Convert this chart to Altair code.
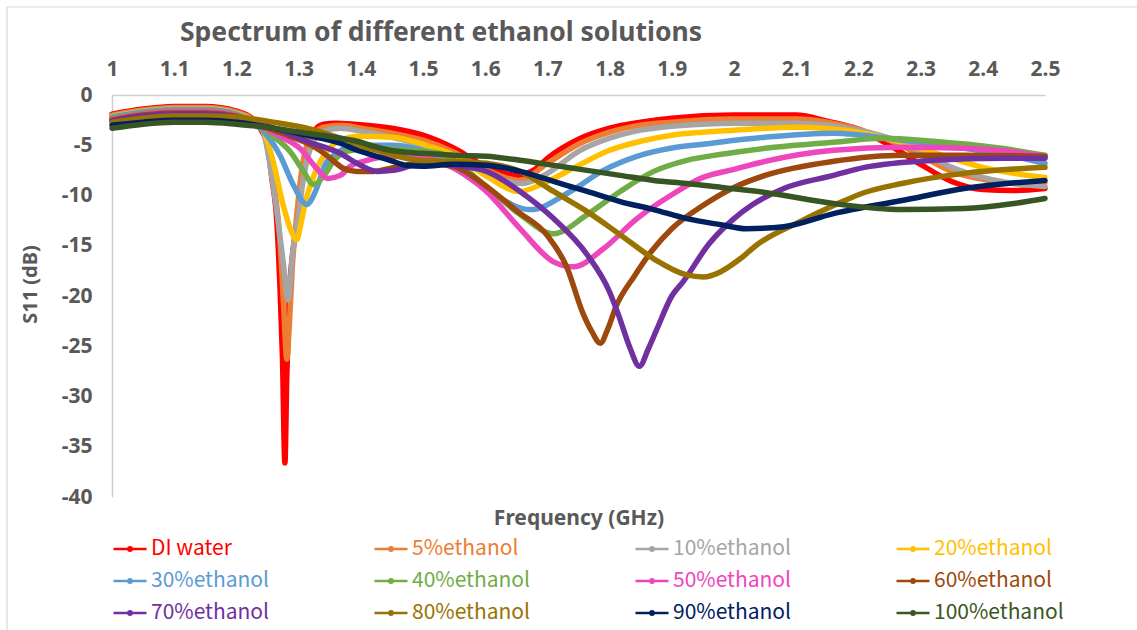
import altair as alt
import pandas as pd

chart_title = "Spectrum of different ethanol solutions"
x_title = "Frequency (GHz)"
y_title = "S11 (dB)"

series_names = ["DI water", "5%ethanol", "10%ethanol", "20%ethanol",
                "30%ethanol", "40%ethanol", "50%ethanol", "60%ethanol",
                "70%ethanol", "80%ethanol", "90%ethanol", "100%ethanol"]
series_colors = ["#FF0000", "#ED7D31", "#A5A5A5", "#FFC000",
                 "#5B9BD5", "#70AD47", "#EE46BC", "#9E480E",
                 "#7030A0", "#997300", "#002060", "#375623"]

x_ticks = [1.0, 1.1, 1.2, 1.3, 1.4, 1.5, 1.6, 1.7, 1.8, 1.9, 2.0, 2.1, 2.2, 2.3, 2.4, 2.5]
y_ticks = [0, -5, -10, -15, -20, -25, -30, -35, -40]

freq_di = [1.00, 1.05, 1.10, 1.15, 1.20, 1.23, 1.24, 1.25, 1.257, 1.265, 1.27, 1.274, 1.278, 1.281,
           1.285, 1.29, 1.297, 1.305, 1.313, 1.325, 1.34, 1.36, 1.39, 1.45, 1.50, 1.55, 1.60, 1.65,
           1.68, 1.70, 1.75, 1.80, 1.85, 1.90, 2.00, 2.10, 2.15, 2.20, 2.25, 2.30, 2.35, 2.40, 2.45, 2.50]
s11_di = [-1.9, -1.4, -1.15, -1.15, -1.6, -2.6, -3.5, -5.0, -8.3, -12.6, -19, -26, -36.6, -28,
          -20, -16, -12.9, -8.5, -5.6, -3.6, -2.9, -2.8, -2.9, -3.3, -4.0, -5.3, -7.1, -8.0,
          -7.4, -6.3, -4.4, -3.3, -2.7, -2.3, -2.0, -2.0, -2.6, -3.4, -5.0, -6.9, -8.6, -9.4, -9.5, -9.3]

freq_5 = [1.00, 1.05, 1.10, 1.15, 1.20, 1.23, 1.243, 1.252, 1.262, 1.27, 1.276, 1.281, 1.285, 1.29,
          1.297, 1.305, 1.313, 1.325, 1.34, 1.37, 1.40, 1.45, 1.50, 1.55, 1.60, 1.655, 1.70, 1.75,
          1.80, 1.85, 1.90, 2.00, 2.10, 2.15, 2.20, 2.25, 2.30, 2.35, 2.40, 2.45, 2.50]
s11_5 = [-2.0, -1.5, -1.25, -1.25, -1.7, -2.6, -3.6, -5.5, -9.5, -14.5, -21, -26.3, -23, -17,
         -12, -7.5, -5.0, -3.8, -3.2, -3.0, -3.3, -3.8, -4.5, -5.7, -7.4, -8.5, -6.8, -4.9,
         -3.7, -3.0, -2.7, -2.4, -2.4, -2.7, -3.4, -4.5, -6.0, -7.6, -8.4, -8.8, -8.7]

freq_10 = [1.00, 1.05, 1.10, 1.15, 1.20, 1.23, 1.243, 1.25, 1.259, 1.267, 1.275, 1.283, 1.29, 1.295,
           1.30, 1.305, 1.313, 1.324, 1.34, 1.367, 1.40, 1.45, 1.50, 1.55, 1.60, 1.66, 1.70, 1.75,
           1.80, 1.85, 1.90, 1.95, 2.00, 2.10, 2.20, 2.25, 2.30, 2.35, 2.40, 2.45, 2.50]
s11_10 = [-2.1, -1.6, -1.35, -1.35, -1.8, -2.7, -3.6, -5.5, -9.0, -12.5, -16.5, -20.4, -16, -13.5,
          -12.0, -9.5, -6.6, -4.6, -3.6, -3.3, -3.6, -4.2, -5.0, -6.2, -7.8, -8.8, -7.8, -5.6,
          -4.3, -3.5, -3.1, -2.9, -2.8, -2.8, -3.5, -4.3, -5.6, -7.2, -8.2, -8.8, -9.1]

freq_20 = [1.00, 1.05, 1.10, 1.15, 1.20, 1.23, 1.245, 1.259, 1.275, 1.286, 1.297, 1.303, 1.31,
           1.321, 1.335, 1.35, 1.367, 1.40, 1.45, 1.50, 1.55, 1.60, 1.655, 1.70, 1.75, 1.80, 1.85,
           1.90, 1.95, 2.00, 2.10, 2.20, 2.25, 2.30, 2.35, 2.40, 2.45, 2.50]
s11_20 = [-2.15, -1.65, -1.4, -1.4, -1.85, -2.8, -3.8, -6.6, -10.9, -13.2, -14.4, -13.0, -10.9,
          -8.6, -6.6, -5.3, -4.5, -4.1, -4.2, -4.9, -6.0, -8.0, -9.6, -8.6, -7.0, -5.5, -4.6,
          -4.0, -3.7, -3.5, -3.2, -3.7, -4.4, -5.3, -6.3, -7.2, -7.8, -8.2]

freq_30 = [1.00, 1.05, 1.10, 1.15, 1.20, 1.23, 1.249, 1.27, 1.292, 1.313, 1.329, 1.342, 1.361,
           1.394, 1.447, 1.50, 1.55, 1.60, 1.672, 1.737, 1.79, 1.844, 1.898, 1.95, 2.05, 2.16,
           2.27, 2.37, 2.44, 2.50]
s11_30 = [-2.2, -1.7, -1.45, -1.45, -1.9, -2.9, -4.0, -6.0, -9.0, -10.9, -9.3, -7.0, -5.8,
          -5.0, -5.0, -5.5, -7.2, -9.3, -11.4, -9.6, -7.5, -6.1, -5.3, -4.9, -4.2, -3.8,
          -4.5, -5.3, -6.0, -6.8]

freq_40 = [1.00, 1.05, 1.10, 1.15, 1.20, 1.23, 1.259, 1.286, 1.308, 1.324, 1.34, 1.356, 1.377,
           1.42, 1.474, 1.527, 1.56, 1.60, 1.656, 1.71, 1.764, 1.817, 1.871, 1.924, 1.98, 2.05,
           2.16, 2.24, 2.32, 2.43, 2.50]
s11_40 = [-2.3, -1.8, -1.55, -1.55, -2.0, -2.9, -4.1, -5.6, -7.6, -8.9, -8.1, -6.6, -5.6,
          -5.3, -5.5, -5.8, -7.0, -9.0, -11.9, -13.8, -11.9, -9.6, -7.6, -6.5, -5.9, -5.3,
          -4.7, -4.3, -4.6, -5.3, -6.0]

freq_50 = [1.00, 1.05, 1.10, 1.15, 1.20, 1.23, 1.27, 1.302, 1.329, 1.347, 1.367, 1.383, 1.41,
           1.447, 1.50, 1.55, 1.602, 1.656, 1.71, 1.742, 1.79, 1.844, 1.898, 1.95, 2.00, 2.05,
           2.16, 2.27, 2.37, 2.44, 2.50]
s11_50 = [-2.4, -1.9, -1.65, -1.65, -2.05, -2.9, -4.1, -5.3, -7.3, -8.3, -8.0, -7.1, -6.5,
          -6.1, -6.2, -7.3, -9.6, -13.3, -16.6, -17.1, -15.3, -12.3, -10.0, -8.2, -7.4, -6.6,
          -5.5, -5.2, -5.3, -5.6, -6.1]

freq_60 = [1.00, 1.05, 1.10, 1.15, 1.20, 1.23, 1.26, 1.286, 1.329, 1.351, 1.372, 1.394, 1.42,
           1.447, 1.50, 1.549, 1.60, 1.65, 1.70, 1.731, 1.757, 1.772, 1.785, 1.797, 1.81, 1.84,
           1.868, 1.90, 1.95, 2.00, 2.05, 2.16, 2.27, 2.37, 2.50]
s11_60 = [-2.5, -2.0, -1.8, -1.8, -2.1, -2.8, -3.5, -4.1, -5.3, -6.3, -7.3, -7.6, -7.6,
          -7.3, -6.8, -7.1, -9.0, -11.5, -14.0, -17.1, -21.7, -23.6, -24.7, -23.3, -21.1, -18.0,
          -15.5, -13.3, -11.0, -9.2, -8.0, -6.6, -6.0, -6.0, -6.1]

freq_70 = [1.00, 1.05, 1.10, 1.15, 1.20, 1.23, 1.27, 1.313, 1.367, 1.394, 1.426, 1.452, 1.485,
           1.527, 1.549, 1.602, 1.656, 1.71, 1.764, 1.80, 1.815, 1.833, 1.848, 1.862, 1.876,
           1.90, 1.918, 1.96, 2.00, 2.03, 2.08, 2.16, 2.21, 2.32, 2.43, 2.50]
s11_70 = [-2.6, -2.1, -1.9, -1.9, -2.2, -2.7, -3.5, -4.6, -5.8, -6.8, -7.6, -7.5, -7.0,
          -6.8, -7.0, -7.6, -9.6, -12.3, -15.9, -19.6, -22.0, -25.2, -27.0, -25.3, -23.3,
          -20.0, -18.6, -14.8, -12.3, -10.9, -9.3, -8.0, -7.2, -6.5, -6.3, -6.3]

freq_80 = [1.00, 1.05, 1.10, 1.15, 1.20, 1.259, 1.313, 1.367, 1.42, 1.495, 1.55, 1.602, 1.656,
           1.71, 1.764, 1.817, 1.871, 1.924, 1.951, 1.978, 2.01, 2.037, 2.106, 2.16, 2.21, 2.27,
           2.37, 2.50]
s11_80 = [-2.7, -2.3, -2.1, -2.1, -2.2, -2.7, -3.3, -4.3, -5.4, -6.5, -6.6, -6.8, -7.6,
          -9.6, -11.6, -13.9, -16.3, -17.9, -18.1, -17.6, -16.3, -14.9, -12.6, -11.0, -9.7, -8.8,
          -7.8, -7.2]

freq_90 = [1.00, 1.05, 1.10, 1.15, 1.20, 1.259, 1.313, 1.367, 1.394, 1.42, 1.447, 1.474, 1.50,
           1.549, 1.602, 1.656, 1.71, 1.764, 1.817, 1.871, 1.924, 1.978, 2.02, 2.08, 2.16, 2.27,
           2.37, 2.50]
s11_90 = [-3.0, -2.7, -2.5, -2.5, -2.7, -3.3, -4.0, -4.8, -5.5, -6.0, -6.5, -7.0, -7.1,
          -6.9, -7.0, -7.6, -8.6, -9.6, -10.6, -11.4, -12.3, -12.9, -13.3, -13.1, -11.8, -10.5,
          -9.3, -8.5]

freq_100 = [1.00, 1.05, 1.10, 1.15, 1.20, 1.259, 1.313, 1.367, 1.394, 1.42, 1.447, 1.474, 1.527,
            1.549, 1.602, 1.656, 1.71, 1.764, 1.817, 1.871, 1.924, 1.98, 2.05, 2.16, 2.27, 2.37,
            2.45, 2.50]
s11_100 = [-3.3, -2.9, -2.7, -2.7, -2.9, -3.3, -3.8, -4.3, -4.6, -5.1, -5.5, -5.7, -5.9,
           -6.0, -6.1, -6.5, -7.0, -7.5, -8.0, -8.5, -8.8, -9.2, -9.7, -10.8, -11.4, -11.3,
           -10.8, -10.3]

all_freqs = [freq_di, freq_5, freq_10, freq_20, freq_30, freq_40,
             freq_50, freq_60, freq_70, freq_80, freq_90, freq_100]
all_s11 = [s11_di, s11_5, s11_10, s11_20, s11_30, s11_40,
           s11_50, s11_60, s11_70, s11_80, s11_90, s11_100]

FONT = "Noto Sans"
LEGEND_FONT = "Noto Sans CJK SC"
GREY = "#595959"

x_axis = alt.Axis(orient="top", values=x_ticks, format="~g", labelFont=FONT, labelFontSize=21,
                  labelFontWeight="bold", labelColor=GREY, labelPadding=16, ticks=False, tickSize=0,
                  domainColor="#CFCFCF", domainWidth=1.5, grid=False, labelFlush=False,
                  labelOverlap=False, title=x_title, titleFont=FONT, titleFontSize=21,
                  titleFontWeight="bold", titleColor=GREY, titleX=466.5, titleY=423,
                  titleAlign="center", titleBaseline="middle", titleAngle=0)
y_axis = alt.Axis(values=y_ticks, labelExpr="datum.value == 0 ? '0' : '-' + abs(datum.value)",
                  labelFont=FONT, labelFontSize=21, labelFontWeight="bold", labelColor=GREY,
                  labelPadding=20, ticks=False, tickSize=0, domainColor="#CFCFCF", domainWidth=1.5,
                  grid=False, labelFlush=False, title=y_title, titleFont=FONT, titleFontSize=20,
                  titleFontWeight="bold", titleColor=GREY, titleX=-82, titleY=189,
                  titleAngle=270, titleAlign="center", titleBaseline="middle")

sym_path = "M-1,0L1,0M-0.1,0A0.1,0.1,0,1,0,0.1,0A0.1,0.1,0,1,0,-0.1,0"
legend = alt.Legend(orient="none", legendX=0, legendY=436, direction="horizontal", columns=4,
                    title=None, symbolType=sym_path, symbolSize=1089, symbolStrokeWidth=2.5,
                    labelFont=LEGEND_FONT, labelFontSize=21,
                    labelColor=alt.ExprRef(expr="scale('color', datum.value)"),
                    labelOffset=3, columnPadding=88, rowPadding=4, gridAlign="all", padding=0,
                    labelLimit=300)

color_scale = alt.Scale(domain=series_names, range=series_colors)
x_scale = alt.Scale(domain=[1.0, 2.5], nice=False, zero=False)
y_scale = alt.Scale(domain=[-40, 0], nice=False)

frame = alt.Chart(pd.DataFrame({"k": [0]})).mark_rect(
    fill="transparent", stroke="#D9D9D9", strokeWidth=1.2
).encode(x=alt.value(-105), x2=alt.value(1100), y=alt.value(-88), y2=alt.value(600))

layers = [frame]
for name, fs, ss in zip(series_names, all_freqs, all_s11):
    assert len(fs) == len(ss), name
    df = pd.DataFrame({"freq": fs, "s11": ss, "series": name})
    layers.append(
        alt.Chart(df).mark_line(strokeWidth=5.5, interpolate="monotone",
                                strokeJoin="round", strokeCap="round").encode(
            x=alt.X("freq:Q", scale=x_scale, axis=x_axis),
            y=alt.Y("s11:Q", scale=y_scale, axis=y_axis),
            color=alt.Color("series:N", scale=color_scale, legend=legend),
            order=alt.Order("freq:Q"),
        )
    )

title = alt.Chart(pd.DataFrame({"t": [chart_title]})).mark_text(
    font=FONT, fontSize=26.5, fontWeight="bold", color=GREY, align="center", baseline="middle"
).encode(x=alt.value(329), y=alt.value(-62), text="t:N")
layers.append(title)

chart = alt.layer(*layers).properties(
    width=933, height=402,
    padding={"left": 112, "top": 95, "right": 92, "bottom": 133},
    autosize=alt.AutoSizeParams(type="none"),
).configure_view(stroke="transparent")

chart.save("out.html", embed_options={"renderer": "svg", "actions": False})
